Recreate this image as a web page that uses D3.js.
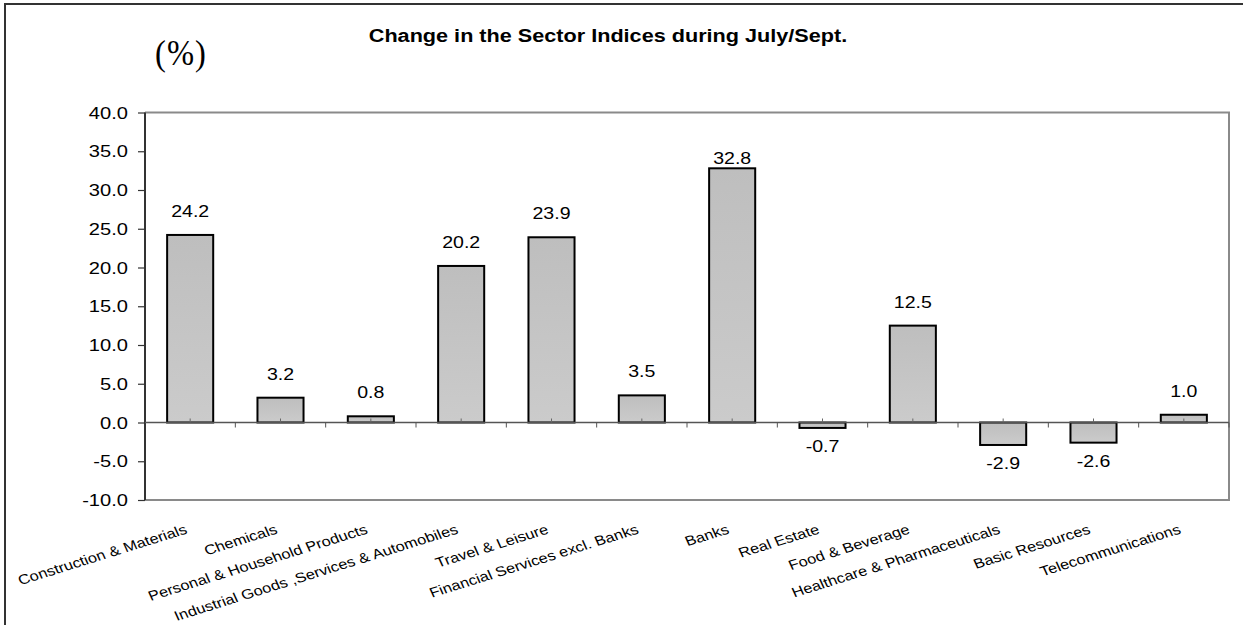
<!DOCTYPE html>
<html>
<head>
<meta charset="utf-8">
<title>Change in the Sector Indices during July/Sept.</title>
<script src="https://cdn.jsdelivr.net/npm/d3@7"></script>
<style>
    html, body { margin: 0; padding: 0; background: #fff; }
    svg { display: block; }
    text { font-family: Arial, "Liberation Sans", sans-serif; fill: #000; }
</style>
</head>
<body>
<div id="chart"></div>
<script>
// Chart data
const categories = [
    'Construction & Materials',
    'Chemicals',
    'Personal & Household Products',
    'Industrial Goods ,Services & Automobiles',
    'Travel & Leisure',
    'Financial Services excl. Banks',
    'Banks',
    'Real Estate',
    'Food & Beverage',
    'Healthcare & Pharmaceuticals',
    'Basic Resources',
    'Telecommunications'
];
const changes = [24.2, 3.2, 0.8, 20.2, 23.9, 3.5, 32.8, -0.7, 12.5, -2.9, -2.6, 1.0];
const yTicks = [-10, -5, 0, 5, 10, 15, 20, 25, 30, 35, 40];
const yDomain = [-10, 40];
const chartTitle = 'Change in the Sector Indices during July/Sept.';
const unitLabel = '(%)';

// plain hyphen for negatives, like the original
const fmt = d => d.toFixed(1);

class SectorChart {
    constructor() {
        this.width = 1243;
        this.height = 625;
        // plot area, in screen pixels
        this.plot = { left: 145, right: 1229, top: 112.5, bottom: 500 };
        this.barRatio = 0.51;
        this.render();
    }

    render() {
        const p = this.plot;
        const svg = d3.select('#chart').append('svg')
            .attr('width', this.width)
            .attr('height', this.height);
        this.svg = svg;

        const defs = svg.append('defs');
        const grad = defs.append('linearGradient')
            .attr('id', 'barFill')
            .attr('x1', 0).attr('y1', 0).attr('x2', 0).attr('y2', 1);
        grad.append('stop').attr('offset', '0%').attr('stop-color', '#bebebe');
        grad.append('stop').attr('offset', '100%').attr('stop-color', '#cbcbcb');

        // outer frame (runs off the right and bottom edges)
        svg.append('rect')
            .attr('x', 5).attr('y', 4)
            .attr('width', this.width + 20).attr('height', this.height + 20)
            .attr('fill', 'none')
            .attr('stroke', '#333')
            .attr('stroke-width', 2);

        this.x = d3.scaleBand().domain(categories).range([p.left, p.right]).padding(0);
        this.y = d3.scaleLinear().domain(yDomain).range([p.bottom, p.top]);

        this.drawFrame();
        this.drawBars();
        this.drawAxes();
        this.drawLabels();
        this.drawTitles();
    }

    drawFrame() {
        const p = this.plot;
        // gray border top / right / bottom
        this.svg.append('path')
            .attr('d', `M${p.left},${p.top}H${p.right}V${p.bottom}H${p.left}`)
            .attr('fill', 'none')
            .attr('stroke', '#8a8a8a')
            .attr('stroke-width', 2);
    }

    drawBars() {
        const x = this.x, y = this.y;
        const bw = x.bandwidth() * this.barRatio;
        this.svg.append('g').attr('class', 'bars')
            .selectAll('rect')
            .data(changes)
            .join('rect')
            .attr('x', (d, i) => x(categories[i]) + (x.bandwidth() - bw) / 2)
            .attr('y', d => y(Math.max(0, d)))
            .attr('width', bw)
            .attr('height', d => Math.abs(y(d) - y(0)))
            .attr('fill', 'url(#barFill)')
            .attr('stroke', '#000')
            .attr('stroke-width', 2);
    }

    drawAxes() {
        const p = this.plot, x = this.x, y = this.y;
        const y0 = y(0);

        // value axis
        const yAxis = this.svg.append('g')
            .attr('transform', `translate(${p.left},0)`)
            .call(d3.axisLeft(y).tickValues(yTicks).tickSize(7).tickFormat(''));
        yAxis.select('.domain')
            .attr('d', `M0,${p.top}V${p.bottom}`)
            .attr('stroke', '#333')
            .attr('stroke-width', 2);
        yAxis.selectAll('.tick line').attr('stroke', '#333').attr('stroke-width', 1.2);

        // tick labels, stretched horizontally like the original
        this.svg.append('g').selectAll('text')
            .data(yTicks)
            .join('text')
            .attr('transform', d => `translate(128,${y(d) + 6}) scale(1.22,1)`)
            .attr('text-anchor', 'end')
            .style('font-size', '16.5px')
            .text(fmt);

        // category axis at zero
        const g = this.svg.append('g').attr('class', 'x-axis');
        g.append('line')
            .attr('x1', p.left).attr('x2', p.right)
            .attr('y1', y0).attr('y2', y0)
            .attr('stroke', '#555')
            .attr('stroke-width', 1.3);
        g.selectAll('.bound')
            .data(categories)
            .join('line')
            .attr('class', 'bound')
            .attr('x1', d => x(d) + x.bandwidth())
            .attr('x2', d => x(d) + x.bandwidth())
            .attr('y1', y0).attr('y2', y0 + 5)
            .attr('stroke', '#555');
        g.selectAll('.mid')
            .data(categories)
            .join('line')
            .attr('class', 'mid')
            .attr('x1', d => x(d) + x.bandwidth() / 2)
            .attr('x2', d => x(d) + x.bandwidth() / 2)
            .attr('y1', y0 - 4).attr('y2', y0)
            .attr('stroke', '#666');

        // rotated category labels
        g.selectAll('.cat')
            .data(categories)
            .join('text')
            .attr('class', 'cat')
            .attr('text-anchor', 'end')
            .attr('transform', d => `translate(${x(d) + x.bandwidth() / 2 - 2},533) scale(1.2,1) rotate(-20.5)`)
            .style('font-size', '13.7px')
            .text(d => d);
    }

    drawLabels() {
        const x = this.x, y = this.y;
        this.svg.append('g').attr('class', 'values')
            .selectAll('text')
            .data(changes)
            .join('text')
            .attr('text-anchor', 'middle')
            .attr('transform', (d, i) => {
                const cx = x(categories[i]) + x.bandwidth() / 2;
                let ty;
                if (d >= 0) {
                    // tallest bar label sits close to the bar
                    const gap = d > 30 ? 4 : 18;
                    ty = y(d) - gap;
                } else {
                    ty = y(d) + 24.5;
                }
                return `translate(${cx},${ty}) scale(1.15,1)`;
            })
            .style('font-size', '17px')
            .text(fmt);
    }

    drawTitles() {
        this.svg.append('text')
            .attr('transform', 'translate(608,42) scale(1.17,1)')
            .attr('text-anchor', 'middle')
            .style('font-size', '18.5px')
            .style('font-weight', 'bold')
            .text(chartTitle);

        this.svg.append('text')
            .attr('transform', 'translate(181,65) scale(1.05,1.15)')
            .attr('text-anchor', 'middle')
            .style('font-family', '"Liberation Serif", "Times New Roman", serif')
            .style('font-size', '31px')
            .style('letter-spacing', '1px')
            .text(unitLabel);
    }
}

document.addEventListener('DOMContentLoaded', () => {
    new SectorChart();
});
</script>
</body>
</html>
